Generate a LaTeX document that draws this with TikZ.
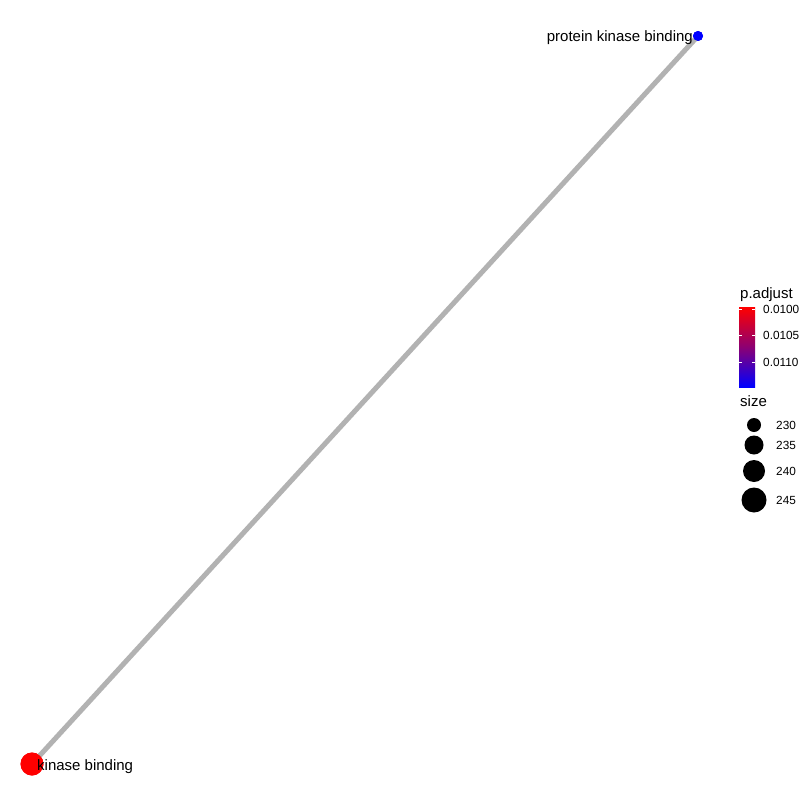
\documentclass[tikz,border=0pt]{standalone}
\usepackage{fontspec}
\setmainfont{Liberation Sans}
\begin{document}
\begin{tikzpicture}[x=1pt,y=-1pt,
  edgeline/.style={draw=black!30, line width=5pt},
  termnode/.style={circle, inner sep=0pt, minimum size=#1},
  termlabel/.style={font=\fontsize{15pt}{17pt}\selectfont, inner sep=0pt},
  legtitle/.style={font=\fontsize{15pt}{17pt}\selectfont, anchor=mid west, inner sep=0pt},
  legtext/.style={font=\fontsize{11.8pt}{14pt}\selectfont, anchor=mid west, inner sep=0pt},
  legdot/.style={circle, fill=black, inner sep=0pt, minimum size=#1}]
\useasboundingbox (0,0) rectangle (800,800);
\fill[white] (0,0) rectangle (800,800);
% nodes
\node[termnode=10pt, fill=blue] (pkb) at (698,36) {};
\node[termnode=23pt, fill=red] (kb) at (32,764) {};
\draw[edgeline] (kb.center) -- (pkb.center);
\node[termnode=10pt, fill=blue] at (pkb.center) {};
\node[termnode=23pt, fill=red] at (kb.center) {};
\node[termlabel, anchor=mid east] (pkbl) at (693,39) {protein kinase binding};
\node[termlabel, anchor=mid west] (kbl) at (37,768) {kinase binding};
% legend colour bar
\node[legtitle] (padj) at (740,296) {p.adjust};
\shade[top color=red, bottom color=blue, middle color=red!55!blue] (739,307) rectangle (755,387);
\foreach \yy in {309,335,362} {
  \draw[white, line width=0.6pt] (739,\yy) -- (742,\yy);
  \draw[white, line width=0.6pt] (752,\yy) -- (755,\yy);
}
\node[legtext] (t1) at (763,310.5) {0.0100};
\node[legtext] (t2) at (763,336.5) {0.0105};
\node[legtext] (t3) at (763,363.5) {0.0110};
% size legend
\node[legtitle] (sz) at (740,404) {size};
\node[legdot=14pt] (d1) at (754,425) {};
\node[legdot=19pt] (d2) at (754,445) {};
\node[legdot=22pt] (d3) at (754,471) {};
\node[legdot=25pt] (d4) at (754,500) {};
\node[legtext] (s1) at (776,426.5) {230};
\node[legtext] (s2) at (776,446.5) {235};
\node[legtext] (s3) at (776,472.5) {240};
\node[legtext] (s4) at (776,501.5) {245};
\end{tikzpicture}
\end{document}
